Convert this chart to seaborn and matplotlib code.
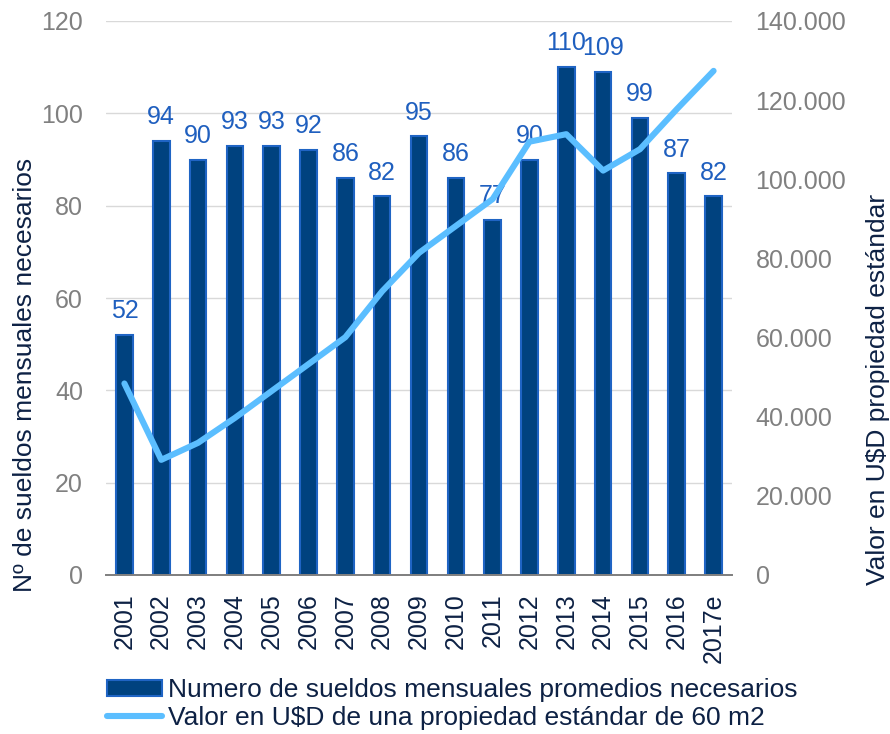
import numpy as np
import pandas as pd
import seaborn as sns
import matplotlib.pyplot as plt
from matplotlib.ticker import FuncFormatter, FixedLocator
from matplotlib.patches import Patch
from matplotlib.lines import Line2D

years = ['2001', '2002', '2003', '2004', '2005', '2006', '2007', '2008', '2009',
         '2010', '2011', '2012', '2013', '2014', '2015', '2016', '2017e']
sueldos = [52, 94, 90, 93, 93, 92, 86, 82, 95, 86, 77, 90, 110, 109, 99, 87, 82]
valor_usd = [48400, 29100, 33400, 39700, 46500, 53300, 60100, 71700, 81400,
             88200, 95000, 109500, 111400, 102200, 107600, 117700, 127400]

bar_label = 'Numero de sueldos mensuales promedios necesarios'
line_label = 'Valor en U$D de una propiedad estándar de 60 m2'

sns.set_style('white')
plt.rcParams['font.family'] = ['Liberation Sans', 'DejaVu Sans']

navy = '#00427F'
edge = '#1F64C4'
light = '#5BBEFF'
label_blue = '#1F5FBF'
dark_text = '#0D2144'
grey = '#808080'

df = pd.DataFrame({'year': years, 'sueldos': sueldos, 'valor': valor_usd})
df['pos'] = np.arange(len(years))

fig = plt.figure(figsize=(8.9, 7.34), dpi=100)
ax = fig.add_axes([106 / 890, 1 - 575 / 734, 626 / 890, 554 / 734])

sns.barplot(data=df, x='year', y='sueldos', color=navy, width=0.45,
            edgecolor=edge, linewidth=1.5, saturation=1, ax=ax, zorder=2)
ax.set_ylim(0, 120)
ax.set_yticks(range(0, 121, 20))
ax.set_xlim(-0.5, len(years) - 0.5)
ax.grid(axis='y', color='#D9D9D9', linewidth=1, zorder=0)
ax.set_axisbelow(True)

for i, v in enumerate(sueldos):
    ax.annotate(str(v), (i, v), xytext=(0, 8.5), textcoords='offset points',
                ha='center', va='bottom', fontsize=18, color=label_blue, zorder=5)

ax2 = ax.twinx()
sns.lineplot(data=df, x='pos', y='valor', color=light, linewidth=4.4, ax=ax2,
             zorder=3)
ax2.set_ylim(0, 140000)
ax2.set_yticks(range(0, 140001, 20000))
ax2.yaxis.set_major_formatter(FuncFormatter(lambda v, p: f'{int(v):,}'.replace(',', '.')))
ax2.set_xlim(-0.5, len(years) - 0.5)

for a in (ax, ax2):
    for s in ('top', 'left', 'right'):
        a.spines[s].set_visible(False)
    a.spines['bottom'].set_color(grey)
    a.spines['bottom'].set_linewidth(1.3)
    a.tick_params(axis='y', length=0, labelsize=18, labelcolor=grey)
    a.set_xlabel('')
    a.set_ylabel('')

ax.tick_params(axis='y', pad=16.5)
ax2.tick_params(axis='y', pad=17)

fig.text(25 / 890, 1 - 375 / 734, 'Nº de sueldos mensuales necesarios',
         rotation=90, ha='center', va='center', fontsize=19, color=dark_text)
fig.text(878 / 890, 1 - 389 / 734, 'Valor en U$D propiedad estándar',
         rotation=90, ha='center', va='center', fontsize=19, color=dark_text)

ax.tick_params(axis='x', which='major', length=0, labelsize=18,
               labelcolor=dark_text, rotation=90, pad=13)
ax.xaxis.set_minor_locator(FixedLocator(np.arange(-0.5, len(years), 1)))
ax.tick_params(axis='x', which='minor', length=7, width=1.3, color=grey)
ax2.tick_params(axis='x', which='both', length=0)

handles = [Patch(facecolor=navy, edgecolor=edge, linewidth=1.5),
           Line2D([0], [0], color=light, linewidth=4.4)]
fig.legend(handles, [bar_label, line_label], loc='upper left',
           bbox_to_anchor=(107 / 890, 1 - 678 / 734), frameon=False,
           labelcolor=dark_text, handlelength=2.1, handleheight=0.55,
           handletextpad=0.2, labelspacing=0.15, borderpad=0, borderaxespad=0,
           prop={'size': 19})

fig.savefig('out.png', dpi=100)
